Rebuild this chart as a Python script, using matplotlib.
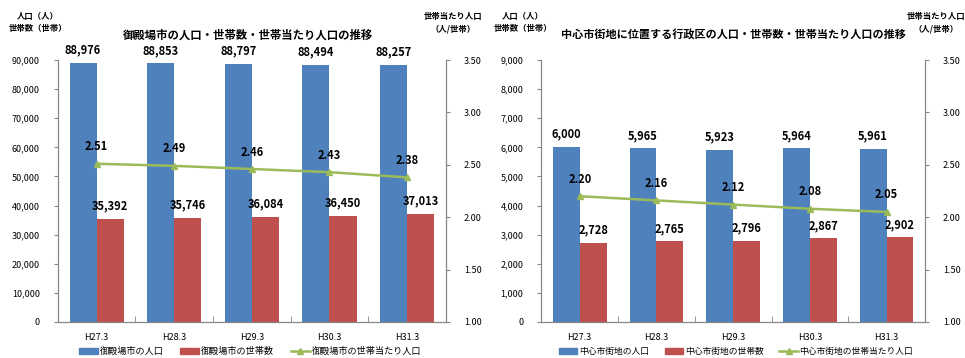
import matplotlib.pyplot as plt
import numpy as np
from matplotlib.lines import Line2D
from matplotlib.patches import Patch

plt.rcParams['font.family'] = ['Noto Sans CJK JP', 'DejaVu Sans']

years = ['H27.3', 'H28.3', 'H29.3', 'H30.3', 'H31.3']

# 御殿場市
city_pop = [88976, 88853, 88797, 88494, 88257]
city_hh = [35392, 35746, 36084, 36450, 37013]
city_per = [2.51, 2.49, 2.46, 2.43, 2.38]

# 中心市街地
center_pop = [6000, 5965, 5923, 5964, 5961]
center_hh = [2728, 2765, 2796, 2867, 2902]
center_per = [2.20, 2.16, 2.12, 2.08, 2.05]

BLUE = '#4F81BD'
RED = '#C0504D'
GREEN = '#9BBB59'
GRAY = '#868686'


def draw(fig, rect, pop, hh, per, ymax, ystep, names, legend_x, legend_fs):
    ax = fig.add_axes(rect)
    x = np.arange(len(years))
    w = 0.35
    ax.bar(x - w / 2, pop, w, color=BLUE)
    ax.bar(x + w / 2, hh, w, color=RED)
    ax.set_xlim(-0.5, len(years) - 0.5)
    ax.set_ylim(0, ymax)
    ax.set_yticks(np.arange(0, ymax + 1, ystep))
    ax.set_yticklabels([f'{v:,}' for v in np.arange(0, ymax + 1, ystep)])
    ax.set_xticks(x)
    ax.set_xticklabels(years)
    ax.set_xticks(np.arange(-0.5, len(years)), minor=True)
    ax.tick_params(axis='x', which='major', length=0, labelsize=6.5, pad=8)
    ax.tick_params(axis='x', which='minor', length=4, color=GRAY, direction='in')
    ax.tick_params(axis='y', labelsize=6.5, length=3, color=GRAY, pad=10)

    for i in range(len(years)):
        ax.text(x[i] - w / 2, pop[i] + ymax * 0.025, f'{pop[i]:,}', ha='center',
                va='bottom', fontsize=8, fontweight='bold')
        ax.text(x[i] + w / 2, hh[i] + ymax * 0.025, f'{hh[i]:,}', ha='center',
                va='bottom', fontsize=8, fontweight='bold')

    ax2 = ax.twinx()
    ax2.plot(x, per, color=GREEN, lw=1.8, marker='^', markersize=5)
    ax2.set_ylim(1.0, 3.5)
    ax2.set_yticks(np.arange(1.0, 3.51, 0.5))
    ax2.set_yticklabels([f'{v:.2f}' for v in np.arange(1.0, 3.51, 0.5)])
    ax2.tick_params(axis='y', labelsize=6.5, length=3, color=GRAY, pad=10)
    for i in range(len(years)):
        ax2.text(x[i], per[i] + 0.1, f'{per[i]:.2f}', ha='center', va='bottom',
                 fontsize=8, fontweight='bold')

    for a in (ax, ax2):
        a.spines['top'].set_visible(False)
        for s in ('left', 'right', 'bottom'):
            a.spines[s].set_color(GRAY)
            a.spines[s].set_linewidth(0.8)

    handles = [Patch(color=BLUE), Patch(color=RED),
               Line2D([], [], color=GREEN, lw=1.8, marker='^', markersize=5)]
    fig.legend(handles, names, loc='center', bbox_to_anchor=(legend_x, 0.018),
               ncol=3, frameon=False, fontsize=legend_fs, handlelength=2.1,
               handleheight=0.6, columnspacing=1.8, handletextpad=0.2,
               borderpad=0, borderaxespad=0)
    return ax


fig = plt.figure(figsize=(9.65, 3.58), dpi=100)

draw(fig, [0.060, 0.101, 0.402, 0.731], city_pop, city_hh, city_per, 90000, 10000,
     ['御殿場市の人口', '御殿場市の世帯数', '御殿場市の世帯当たり人口'], 250 / 965, 6.6)
draw(fig, [0.561, 0.101, 0.3975, 0.731], center_pop, center_hh, center_per, 9000, 1000,
     ['中心市街地の人口', '中心市街地の世帯数', '中心市街地の世帯当たり人口'], 736 / 965, 6.3)

fig.text(248 / 965, 1 - 35 / 358, '御殿場市の人口・世帯数・世帯当たり人口の推移',
         ha='center', va='center', fontsize=8.2, fontweight='bold')
fig.text(733 / 965, 1 - 34 / 358, '中心市街地に位置する行政区の人口・世帯数・世帯当たり人口の推移',
         ha='center', va='center', fontsize=8.0, fontweight='bold')

for cx in (38, 523):
    fig.text(cx / 965, 1 - 17 / 358, '人口（人）', ha='center', va='center',
             fontsize=6, fontweight='bold')
    fig.text(cx / 965, 1 - 29 / 358, '世帯数（世帯）', ha='center', va='center',
             fontsize=6, fontweight='bold')
for cx in (453, 936):
    fig.text(cx / 965, 1 - 17 / 358, '世帯当たり人口', ha='center', va='center',
             fontsize=6, fontweight='bold')
    fig.text(cx / 965, 1 - 29 / 358, '（人/世帯）', ha='center', va='center',
             fontsize=6, fontweight='bold')

fig.savefig('out.png', dpi=100)
